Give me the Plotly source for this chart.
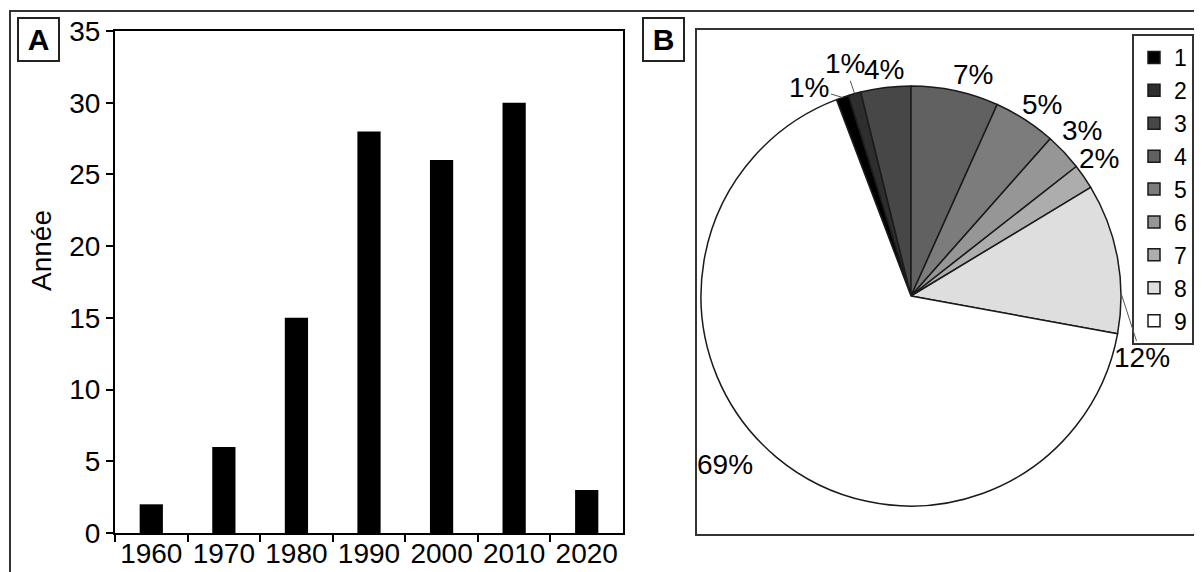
import math
import plotly.graph_objects as go

# ---------------- data ----------------
years = ["1960", "1970", "1980", "1990", "2000", "2010", "2020"]
counts = [2, 6, 15, 28, 26, 30, 3]
y_ticks = [0, 5, 10, 15, 20, 25, 30, 35]

pie_labels = ["1", "2", "3", "4", "5", "6", "7", "8", "9"]
pie_values = [1, 1, 4, 7, 5, 3, 2, 12, 69]
pie_text = ["1%", "1%", "4%", "7%", "5%", "3%", "2%", "12%", "69%"]

# ---------------- styles ----------------
pie_colors = ["#000000", "#2e2e2e", "#474747", "#616161", "#7c7c7c",
              "#969696", "#adadad", "#dedede", "#ffffff"]
FONT = "Liberation Sans, Arial, Helvetica, sans-serif"
W, H = 1202, 572
OFF = 8  # page body margin in the browser


def px(x):
    return (x - OFF) / W


def py(y):
    return 1 - (y - OFF) / H


bar_left, bar_right, bar_top, bar_bottom = 115, 623, 31, 533
pie_cx, pie_cy, pie_r = 911, 296, 210
first_group = 3  # slices before 12 o'clock

fig = go.Figure()

fig.add_trace(go.Bar(
    x=years, y=counts, width=0.32,
    marker=dict(color="black", line=dict(width=0)),
    showlegend=False, xaxis="x", yaxis="y",
))

total = sum(pie_values)
rotation = -360.0 * sum(pie_values[:first_group]) / total

fig.add_trace(go.Pie(
    labels=pie_labels, values=pie_values, sort=False, direction="clockwise",
    rotation=rotation, textinfo="none",
    marker=dict(colors=pie_colors, line=dict(color="#1a1a1a", width=1.5)),
    domain=dict(x=[px(pie_cx - pie_r), px(pie_cx + pie_r)],
                y=[py(pie_cy + pie_r), py(pie_cy - pie_r)]),
    showlegend=True,
))

# ---------------- pie labels (computed from slice angles) ----------------
label_dist = [None, None, 228, 230, 232, 238, 233, None, 251]
label_turn = [0, 0, 0, 3.5, 1.5, -0.8, -1.6, 0, 8]
leader_frac = [0.5, 0.5, None, None, None, None, None, 0.73, None]
leader_off = [(-33, -10), (-10, -30), None, None, None, None, None, (21, 65), None]

annotations = []
cum = rotation
for i, v in enumerate(pie_values):
    a0 = cum
    a1 = cum + 360.0 * v / total
    cum = a1
    if leader_frac[i] is not None:
        ang = math.radians(a0 + leader_frac[i] * (a1 - a0))
        x = pie_cx + pie_r * math.sin(ang)
        y = pie_cy - pie_r * math.cos(ang)
        annotations.append(dict(
            x=px(x), y=py(y), xref="paper", yref="paper", text=pie_text[i],
            showarrow=True, arrowhead=0, arrowwidth=1, arrowcolor="#555555",
            ax=leader_off[i][0], ay=leader_off[i][1], standoff=0,
            font=dict(size=28, color="black", family=FONT)))
    else:
        ang = math.radians((a0 + a1) / 2 + label_turn[i])
        d = label_dist[i]
        x = pie_cx + d * math.sin(ang)
        y = pie_cy - d * math.cos(ang)
        annotations.append(dict(
            x=px(x), y=py(y), xref="paper", yref="paper", text=pie_text[i],
            showarrow=False, xanchor="center", yanchor="middle",
            font=dict(size=28, color="black", family=FONT)))

# y-axis title
annotations.append(dict(
    x=px(42), y=py(251), xref="paper", yref="paper", text="Année",
    textangle=-90, showarrow=False, xanchor="center", yanchor="middle",
    font=dict(size=28, color="black", family=FONT)))

# panel letters
for letter, cx in (("A", 38.5), ("B", 663.5)):
    annotations.append(dict(
        x=px(cx), y=py(40), xref="paper", yref="paper", text="<b>%s</b>" % letter,
        showarrow=False, xanchor="center", yanchor="middle",
        width=39, height=41, borderwidth=2, bordercolor="#222222", borderpad=0,
        bgcolor="white", font=dict(size=30, color="black", family=FONT)))

shapes = [
    dict(type="rect", xref="paper", yref="paper",
         x0=px(10), x1=px(1230), y0=py(11), y1=py(620),
         line=dict(color="#333333", width=2), layer="below"),
    dict(type="rect", xref="paper", yref="paper",
         x0=px(696), x1=px(1230), y0=py(29), y1=py(535),
         line=dict(color="#333333", width=2), layer="below"),
]

fig.update_layout(
    width=W, height=H, autosize=False,
    margin=dict(l=0, r=0, t=0, b=0, pad=0),
    paper_bgcolor="white", plot_bgcolor="white",
    font=dict(family=FONT, size=28, color="black"),
    xaxis=dict(
        domain=[px(bar_left), px(bar_right)], type="category",
        range=[-0.5, len(years) - 0.5], tickson="boundaries",
        ticks="outside", ticklen=7, tickwidth=2, tickcolor="black",
        ticklabelstandoff=-6,
        showline=True, linewidth=2, linecolor="black", mirror=True,
        showgrid=False, zeroline=False, automargin=False,
        tickfont=dict(size=28, family=FONT, color="black"),
        anchor="y", fixedrange=True,
    ),
    yaxis=dict(
        domain=[py(bar_bottom), py(bar_top)], range=[0, 35],
        tickvals=y_ticks, ticks="outside", ticklen=7, tickwidth=2,
        tickcolor="black", showline=True, linewidth=2, linecolor="black",
        mirror=True, showgrid=False, zeroline=False, automargin=False,
        tickfont=dict(size=28, family=FONT, color="black"),
        anchor="x", fixedrange=True,
    ),
    legend=dict(
        x=px(1132), y=py(34), xanchor="left", yanchor="top",
        bordercolor="#333333", borderwidth=2, bgcolor="white",
        font=dict(size=23, family=FONT, color="black"),
        tracegroupgap=0, itemwidth=30,
    ),
    annotations=annotations,
    shapes=shapes,
)

fig.write_html("out.html")
